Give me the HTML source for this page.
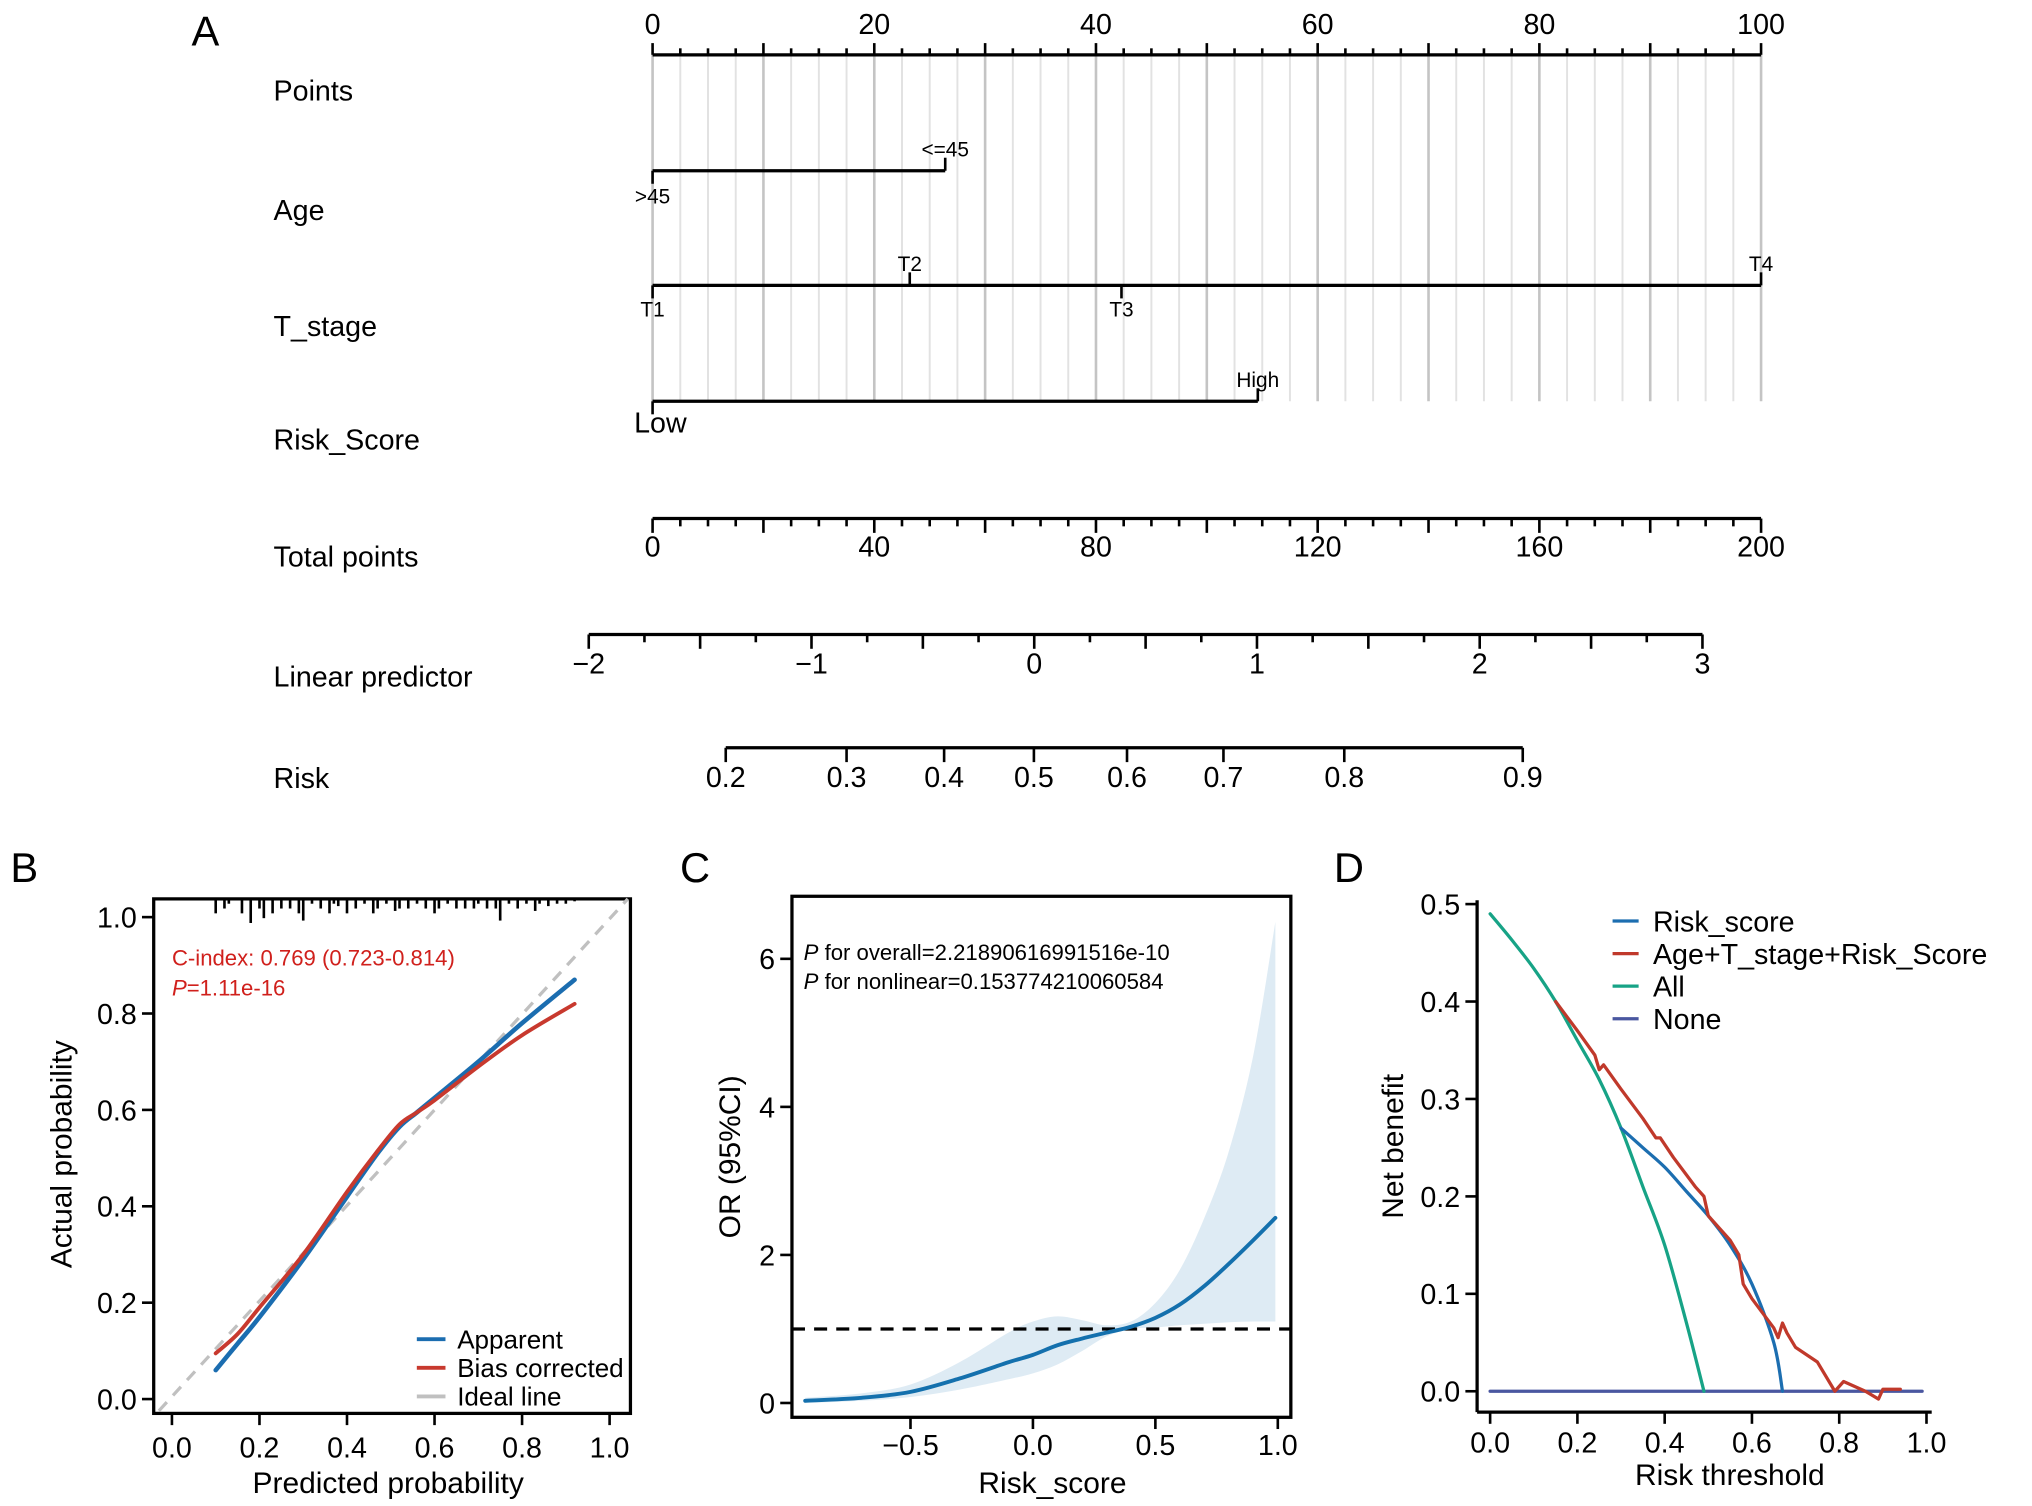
<!DOCTYPE html>
<html><head><meta charset="utf-8"><style>
html,body{margin:0;padding:0;background:#fff}
svg{display:block}
text{font-family:"Liberation Sans",Arial,sans-serif;fill:#000}
</style></head><body>
<svg id="fig" width="2032" height="1506" viewBox="0 0 1560 1156" xmlns="http://www.w3.org/2000/svg">
<text x="147" y="35" font-size="32">A</text>
<text x="8" y="677" font-size="32">B</text>
<text x="522" y="677" font-size="32">C</text>
<text x="1024" y="677" font-size="32">D</text>
<g id="A"></g>
<g id="B"></g>
<g id="C"></g>
<g id="D"></g>
</svg>
<script>
// ---------- data ----------
const rowLabels = ["Points","Age","T_stage","Risk_Score","Total points","Linear predictor","Risk"];
const ageCats = [">45","<=45"];
const agePts = [0,26.4];
const tCats = ["T1","T2","T3","T4"];
const tPts = [0,23.2,42.3,100];
const riskCats = ["Low","High"];
const riskPts = [0,54.6];
const lpTicks = [-2,-1,0,1,2,3];
const riskTicks = [0.2,0.3,0.4,0.5,0.6,0.7,0.8,0.9];
const riskTickPts = [6.6,17.5,26.3,34.4,42.8,51.5,62.4,78.5];

const bPred = [0.10,0.15,0.2,0.3,0.4,0.47,0.52,0.56,0.6,0.7,0.8,0.92];
const bApparent = [0.06,0.115,0.17,0.29,0.42,0.51,0.565,0.595,0.625,0.70,0.78,0.87];
const bCorrected = [0.095,0.135,0.19,0.30,0.43,0.515,0.57,0.595,0.62,0.69,0.755,0.82];
const bRug = [0.10,0.12,0.13,0.16,0.18,0.20,0.21,0.23,0.25,0.27,0.29,0.30,0.32,0.34,0.36,0.37,0.38,0.40,0.42,0.44,0.46,0.47,0.49,0.51,0.52,0.54,0.56,0.58,0.60,0.61,0.63,0.65,0.67,0.69,0.70,0.72,0.74,0.75,0.77,0.79,0.81,0.83,0.84,0.86,0.88,0.90,0.92];
const bRugH = [0.03,0.02,0.01,0.03,0.05,0.02,0.04,0.03,0.02,0.02,0.03,0.045,0.01,0.02,0.03,0.01,0.015,0.03,0.02,0.01,0.03,0.02,0.01,0.025,0.02,0.02,0.01,0.02,0.03,0.02,0.01,0.02,0.02,0.02,0.01,0.02,0.02,0.045,0.01,0.02,0.01,0.025,0.01,0.015,0.01,0.01,0.005];

const cX = [-0.93,-0.7,-0.5,-0.3,-0.1,0.0,0.1,0.2,0.3,0.4,0.5,0.6,0.7,0.8,0.9,0.99];
const cOR = [0.03,0.07,0.15,0.33,0.55,0.65,0.78,0.87,0.95,1.03,1.15,1.33,1.58,1.88,2.2,2.5];
const cLo = [0.0,0.03,0.08,0.18,0.32,0.4,0.52,0.7,0.9,1.0,1.02,1.05,1.07,1.09,1.1,1.1];
const cHi = [0.07,0.13,0.25,0.55,0.95,1.1,1.17,1.12,1.05,1.1,1.35,1.8,2.5,3.4,4.7,6.5];

const dAllT = [0,0.05,0.1,0.15,0.2,0.25,0.3,0.35,0.4,0.45,0.49];
const dAllNB = [0.49,0.463,0.434,0.40,0.36,0.32,0.27,0.21,0.15,0.07,0.0];
const dRsT = [0.3,0.35,0.4,0.45,0.5,0.55,0.6,0.65,0.67];
const dRsNB = [0.27,0.25,0.23,0.205,0.18,0.15,0.11,0.05,0.0];
const dCombT = [0.15,0.2,0.24,0.25,0.26,0.3,0.35,0.38,0.39,0.42,0.47,0.49,0.5,0.55,0.57,0.58,0.6,0.65,0.66,0.67,0.68,0.7,0.75,0.79,0.81,0.86,0.89,0.9,0.94];
const dCombNB = [0.40,0.37,0.345,0.33,0.335,0.31,0.28,0.26,0.26,0.24,0.21,0.20,0.18,0.155,0.14,0.11,0.095,0.065,0.055,0.07,0.06,0.045,0.03,0.0,0.01,0.0,-0.008,0.002,0.002];
const dNoneT = [0,0.99];
const dNoneNB = [0,0];

// ---------- helpers ----------
const NS="http://www.w3.org/2000/svg";
function mk(parent,tag,attrs){const e=document.createElementNS(NS,tag);for(const k in attrs)e.setAttribute(k,attrs[k]);parent.appendChild(e);return e;}
function line(p,x1,y1,x2,y2,stroke,w,extra){return mk(p,"line",Object.assign({x1,y1,x2,y2,stroke,"stroke-width":w},extra||{}));}
function txt(p,x,y,s,size,anchor,extra){const e=mk(p,"text",Object.assign({x,y,"font-size":size,"text-anchor":anchor||"start"},extra||{}));e.textContent=s;return e;}
function pathD(xs,ys,fx,fy,smooth){const P=xs.map((x,i)=>[fx(x),fy(ys[i])]);let d="M"+P[0][0].toFixed(2)+","+P[0][1].toFixed(2);
for(let i=1;i<P.length;i++){if(!smooth){d+="L"+P[i][0].toFixed(2)+","+P[i][1].toFixed(2);continue;}
const p0=P[Math.max(0,i-2)],p1=P[i-1],p2=P[i],p3=P[Math.min(P.length-1,i+1)];
const c1=[p1[0]+(p2[0]-p0[0])/6,p1[1]+(p2[1]-p0[1])/6],c2=[p2[0]-(p3[0]-p1[0])/6,p2[1]-(p3[1]-p1[1])/6];
d+="C"+c1[0].toFixed(2)+","+c1[1].toFixed(2)+" "+c2[0].toFixed(2)+","+c2[1].toFixed(2)+" "+p2[0].toFixed(2)+","+p2[1].toFixed(2);}
return d;}
function path(p,xs,ys,fx,fy,stroke,w,smooth){return mk(p,"path",{d:pathD(xs,ys,fx,fy,smooth),fill:"none",stroke,"stroke-width":w,"stroke-linejoin":"round","stroke-linecap":"round"});}

// ---------- Panel A ----------
(function(){
const g=document.getElementById("A");
const px=v=>501+v*(1352-501)/100;
const rowY=[70,162,251,338,428,520,598];
rowLabels.forEach((l,i)=>{const t=txt(g,210,rowY[i]+7,l,22);

});
for(let v=0;v<=100;v+=2.5){const major=v%10===0;
const e=line(g,px(v),42,px(v),308,major?"#c4c4c4":"#e2e2e2",major?2:1.5);

}
line(g,px(0),42,px(100),42,"#000",2.5);
for(let v=0;v<=100;v+=2.5){const major=v%10===0;line(g,px(v),42,px(v),major?33:37,"#000",2);}
for(let v=0;v<=100;v+=20){const t=txt(g,px(v),26,String(v),22,"middle");

}
line(g,px(0),131,px(agePts[1]),131,"#000",2.5);
agePts.forEach((v,i)=>{line(g,px(v),131,px(v),i?121:141,"#000",2);});
txt(g,px(agePts[0]),156,ageCats[0],16,"middle");
txt(g,px(agePts[1]),120,ageCats[1],16,"middle");
line(g,px(0),219,px(100),219,"#000",2.5);
tPts.forEach((v,i)=>{const up=i%2===1;line(g,px(v),219,px(v),up?209:229,"#000",2);
const t=txt(g,px(v),up?208:243,tCats[i],16,"middle");

});
line(g,px(0),308,px(riskPts[1]),308,"#000",2.5);
line(g,px(0),308,px(0),318,"#000",2);line(g,px(riskPts[1]),308,px(riskPts[1]),298,"#000",2);
txt(g,px(0)+6,332,riskCats[0],22,"middle");
txt(g,px(riskPts[1]),297,riskCats[1],16,"middle");
const tp=v=>501+v*(1352-501)/200;
line(g,tp(0),398,tp(200),398,"#000",2.5);
for(let v=0;v<=200;v+=5){const major=v%20===0;line(g,tp(v),398,tp(v),major?409:404,"#000",2);}
for(let v=0;v<=200;v+=40){const t=txt(g,tp(v),427,String(v),22,"middle");

}
const lp=v=>452+(v+2)*(1307-452)/5;
line(g,lp(-2),487,lp(3),487,"#000",2.5);
for(let v=-2;v<=3.001;v+=0.25){const major=Math.abs(v*2-Math.round(v*2))<1e-6;line(g,lp(v),487,lp(v),major?498:493,"#000",2);}
lpTicks.forEach(v=>{const t=txt(g,lp(v),517,(v<0?"\u2212":"")+Math.abs(v),22,"middle");

});
line(g,px(riskTickPts[0]),574,px(riskTickPts[riskTickPts.length-1]),574,"#000",2.5);
riskTicks.forEach((v,i)=>{line(g,px(riskTickPts[i]),574,px(riskTickPts[i]),585,"#000",2);
const t=txt(g,px(riskTickPts[i]),604,v.toFixed(1),22,"middle");

});
})();

// ---------- Panel B ----------
(function(){
const g=document.getElementById("B");
const fx=v=>132+v*(468-132), fy=v=>1074-v*(1074-704);
mk(g,"rect",{x:118,y:690,width:366,height:395,fill:"none",stroke:"#000","stroke-width":2.5});
line(g,122,1083,482,690,"#c0c0c0",2.5,{"stroke-dasharray":"9,7"});
bRug.forEach((v,i)=>{const e=line(g,fx(v),690,fx(v),690+bRugH[i]*370,"#000",2);

});
const a=path(g,bPred,bApparent,fx,fy,"#1b6db0",3.5,true);


const c=path(g,bPred,bCorrected,fx,fy,"#c8392e",3,true);


for(let v=0;v<=1.001;v+=0.2){line(g,fx(v),1085,fx(v),1094,"#000",2);line(g,118,fy(v),109,fy(v),"#000",2);
txt(g,fx(v),1119,v.toFixed(1),22,"middle");txt(g,105,fy(v)+8,v.toFixed(1),22,"end");}
txt(g,298,1146,"Predicted probability",23,"middle");
txt(g,55,886,"Actual probability",23,"middle",{transform:"rotate(-90 55 886)"});
txt(g,132,741,"C-index: 0.769 (0.723-0.814)",17,"start",{style:"fill:#d0201c"});
const p=txt(g,132,764,"",17,"start",{style:"fill:#d0201c"});p.innerHTML='<tspan font-style="italic" style="fill:#d0201c">P</tspan>=1.11e-16';
[["Apparent","#1b6db0"],["Bias corrected","#c8392e"],["Ideal line","#c0c0c0"]].forEach((l,i)=>{const y=1028+i*22;line(g,320,y,342,y,l[1],3);const t=txt(g,351,y+7,l[0],20);

});
})();

// ---------- Panel C ----------
(function(){
const g=document.getElementById("C");
const fx=v=>793+v*188, fy=v=>1077-v*56.83;
const up=pathD(cX,cHi,fx,fy,true);
const loR=pathD(cX.slice().reverse(),cLo.slice().reverse(),fx,fy,true).replace(/^M/,"L");
const band=mk(g,"path",{d:up+loR+"Z",fill:"#deebf4",stroke:"none"});


line(g,608,fy(1),991,fy(1),"#000",2.5,{"stroke-dasharray":"10,7"});
const l=path(g,cX,cOR,fx,fy,"#1470ad",3,true);


mk(g,"rect",{x:608,y:688,width:383,height:400,fill:"none",stroke:"#000","stroke-width":2.5});
[-0.5,0,0.5,1].forEach(v=>{line(g,fx(v),1088,fx(v),1097,"#000",2);txt(g,fx(v),1117,(v<0?"\u2212":"")+Math.abs(v).toFixed(1),22,"middle");});
[0,2,4,6].forEach(v=>{line(g,608,fy(v),599,fy(v),"#000",2);txt(g,595,fy(v)+8,String(v),22,"end");});
txt(g,808,1146,"Risk_score",23,"middle");
txt(g,568,888,"OR (95%CI)",23,"middle",{transform:"rotate(-90 568 888)"});
const t1=txt(g,617,737,"",17);t1.innerHTML='<tspan font-style="italic">P</tspan> for overall=2.21890616991516e-10';
const t2=txt(g,617,759,"",17);t2.innerHTML='<tspan font-style="italic">P</tspan> for nonlinear=0.153774210060584';
})();

// ---------- Panel D ----------
(function(){
const g=document.getElementById("D");
const fx=v=>1144+v*335, fy=v=>1068-v*748;
line(g,1134,691,1134,1084,"#000",2.5);line(g,1134,1084,1483,1084,"#000",2.5);
for(let v=0;v<=1.001;v+=0.2){line(g,fx(v),1084,fx(v),1093,"#000",2);txt(g,fx(v),1115,v.toFixed(1),22,"middle");}
for(let v=0;v<=0.5001;v+=0.1){line(g,1134,fy(v),1125,fy(v),"#000",2);txt(g,1121,fy(v)+8,v.toFixed(1),22,"end");}
const n=path(g,dNoneT,dNoneNB,fx,fy,"#4a57a0",2.5,false);


const a=path(g,dAllT,dAllNB,fx,fy,"#17a386",2.5,true);


const r=path(g,dRsT,dRsNB,fx,fy,"#1c6eb0",2.5,true);


const c=path(g,dCombT,dCombNB,fx,fy,"#c0392b",2.5,false);


txt(g,1328,1140,"Risk threshold",23,"middle");
txt(g,1077,880,"Net benefit",23,"middle",{transform:"rotate(-90 1077 880)"});
[["Risk_score","#1c6eb0"],["Age+T_stage+Risk_Score","#c0392b"],["All","#17a386"],["None","#4a57a0"]].forEach((l,i)=>{const y=707+i*25;line(g,1238,y,1258,y,l[1],2.5);const t=txt(g,1269,y+8,l[0],22);

});
})();
</script>
</body></html>
